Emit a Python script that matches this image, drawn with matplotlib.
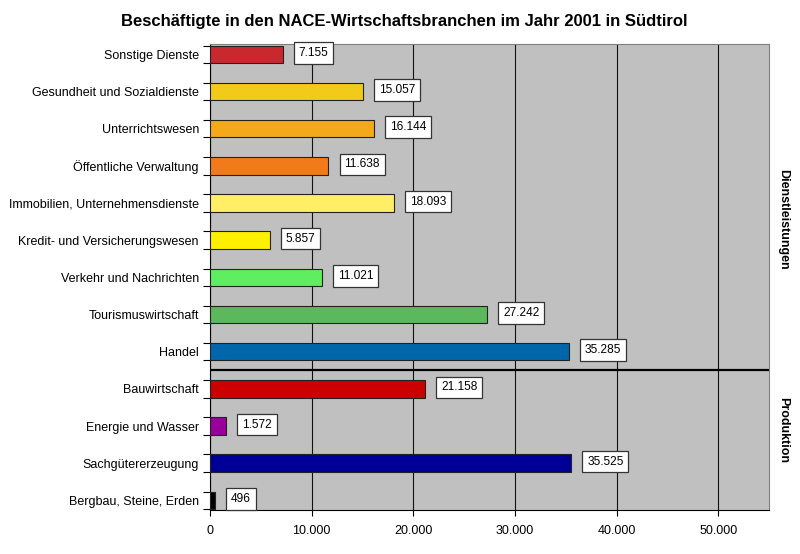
import numpy as np
from matplotlib import pyplot as plt
from matplotlib.ticker import FuncFormatter

plt.rcParams['font.family'] = ['Liberation Sans', 'DejaVu Sans']

branchen = ["Sonstige Dienste", "Gesundheit und Sozialdienste", "Unterrichtswesen",
            "Öffentliche Verwaltung", "Immobilien, Unternehmensdienste",
            "Kredit- und Versicherungswesen", "Verkehr und Nachrichten",
            "Tourismuswirtschaft", "Handel", "Bauwirtschaft", "Energie und Wasser",
            "Sachgütererzeugung", "Bergbau, Steine, Erden"]
beschaeftigte = [7155, 15057, 16144, 11638, 18093, 5857, 11021, 27242, 35285,
                 21158, 1572, 35525, 496]
farben = ["#C8282E", "#F2CA1A", "#F2AA1A", "#F27A1A", "#FFEE66", "#FFF000",
          "#5FEE5F", "#5CB85C", "#0066AA", "#CC0000", "#990099", "#000099", "#000000"]
gruppen = ["Dienstleistungen", "Produktion"]
gruppen_pos = [4.43, 10.1]


def punkt(x, pos=None):
    return f"{int(x):,}".replace(",", ".")


fig = plt.figure(figsize=(8, 5.54), dpi=100)
ax = fig.add_axes([0.2625, 0.0794, 0.699, 0.8412])
ax.set_facecolor("#C0C0C0")

y = np.arange(len(branchen))
ax.barh(y, beschaeftigte, height=0.47, color=farben, edgecolor="#222222", linewidth=0.8, zorder=3)

# Wertebeschriftung in weissen Kaestchen
for yi, v in zip(y, beschaeftigte):
    ax.annotate(punkt(v), (v, yi), xytext=(16, 3), textcoords="offset pixels",
                ha="left", va="center_baseline", fontsize=8.6, zorder=5,
                bbox=dict(boxstyle="square,pad=0.4", fc="white", ec="#333333", lw=0.9))

ax.set_xlim(0, 55000)
ax.set_ylim(12.26, -0.28)
ax.set_xticks(np.arange(0, 50001, 10000))
ax.xaxis.set_major_formatter(FuncFormatter(punkt))
ax.grid(axis="x", color="#111111", linewidth=0.8, zorder=1)

ax.set_yticks(y)
ax.set_yticklabels(branchen, fontsize=9)
ax.tick_params(axis="y", length=0, pad=8)
ax.set_yticks(np.concatenate([y - 0.235, y + 0.235]), minor=True)
ax.tick_params(axis="y", which="minor", length=5, width=0.8)
ax.tick_params(axis="x", length=4, width=0.8, labelsize=9, pad=7)

for s in ["top", "right"]:
    ax.spines[s].set_color("#808080")
for s in ["left", "bottom"]:
    ax.spines[s].set_color("black")

ax.axhline(8.5, color="black", linewidth=1.6, zorder=4)

for g, p in zip(gruppen, gruppen_pos):
    ax.text(1.025, p, g, transform=ax.get_yaxis_transform(), rotation=-90,
            ha="center", va="center", fontsize=9, fontweight="bold")

fig.text(0.505, 0.962, "Beschäftigte in den NACE-Wirtschaftsbranchen im Jahr 2001 in Südtirol",
         ha="center", va="center", fontsize=12, fontweight="bold")

plt.savefig("out.png", dpi=100)
